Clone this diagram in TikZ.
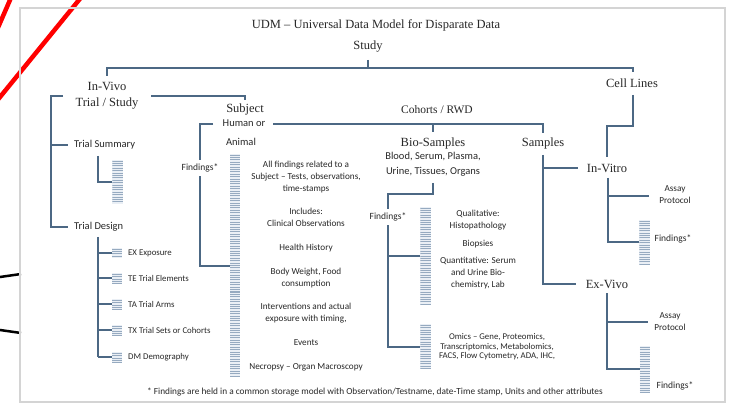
\documentclass[tikz,border=0pt]{standalone}
\usepackage{fontspec}
\setmainfont{Liberation Serif}
\setsansfont{Carlito}

\definecolor{treeblue}{RGB}{76,104,132}
\definecolor{barfill}{RGB}{234,239,245}
\definecolor{barline}{RGB}{150,170,192}
\definecolor{inkgray}{RGB}{40,40,40}
\definecolor{framegray}{RGB}{212,212,212}

\begin{document}
\begin{tikzpicture}[
		x=1pt,
		y=-1pt,
		link/.style={draw=treeblue, line width=2pt},
		head/.style={font=\fontsize{12.5}{16}\selectfont, text=inkgray, align=center, inner sep=1pt},
		subnote/.style={font=\sffamily\fontsize{10.5}{15}\selectfont, text=inkgray, align=center, inner sep=1pt},
		note/.style={font=\sffamily\fontsize{9.2}{12}\selectfont, text=inkgray, align=center, inner sep=1pt},
		findlabel/.style={font=\sffamily\fontsize{9.5}{10}\selectfont, text=inkgray, inner sep=4pt},
		tdlabel/.style={font=\sffamily\fontsize{8.8}{10}\selectfont, text=inkgray, anchor=west, inner sep=0pt},
		findbar/.style={minimum width=10.5pt, minimum height=#1, inner sep=0pt, fill=barfill,
			path picture={
				\foreach \k in {0,...,95}
					\draw[barline, line width=1pt] ([yshift=-\k*2.4pt-1.2pt]path picture bounding box.north west) -- ([yshift=-\k*2.4pt-1.2pt]path picture bounding box.north east);
			}}
	]
	\useasboundingbox (0,0) rectangle (731,406);
	\fill[white] (0,0) rectangle (731,406);

	% marks outside the frame
	\draw[red, line width=4.5pt] (-2,27.6) -- (12,-4.6);
	\draw[red, line width=4.5pt] (-2,99.5) -- (81,-2.5);
	\draw[black, line width=2.5pt] (-2,277.3) -- (21,274);
	\draw[black, line width=2.5pt] (-2,329.7) -- (21,333);
	\draw[framegray, line width=2.5pt] (20,8) rectangle (725,402);

	% headings
	\node[head] (title) at (376,25) {UDM – Universal Data Model for Disparate Data};
	\node[head] (study) at (368,47) {Study};
	\node[head] (invivo) at (107,96) {In-Vivo\\Trial / Study};
	\node[head] (cells) at (632,83) {Cell Lines};
	\node[head] (subject) at (245,109) {Subject};
	\node[subnote] (human) at (244,123) {Human or};
	\node[subnote] (animal) at (241,142) {Animal};
	\node[head, font=\fontsize{11.5}{14}\selectfont] (cohorts) at (437,110) {Cohorts / RWD};
	\node[head] (bio) at (433,143) {Bio-Samples};
	\node[subnote] (biolist) at (433,164.5) {Blood, Serum, Plasma,\\Urine, Tissues, Organs};
	\node[head] (samples) at (543,143) {Samples};
	\node[head] (invitro) at (607,168) {In-Vitro};
	\node[head] (exvivo) at (607,284) {Ex-Vivo};

	% top level
	\coordinate (topbar) at (368,68);
	\coordinate (ivtop) at (107,76);
	\coordinate (cltop) at (633,72);
	\draw[link] (ivtop) |- (topbar) -| (cltop);
	\draw[link] (368,60) -- (topbar);

	% in-vivo trial
	\node[subnote, anchor=west] (tsum) at (73,145) {Trial Summary};
	\node[subnote, anchor=west] (tdes) at (73,227) {Trial Design};
	\coordinate (ivleft) at (63,96);
	\coordinate (ivspine) at (51,96);
	\draw[link] (ivleft) -- (ivspine) |- ([xshift=-5pt]tdes.west);
	\draw[link] (ivspine |- tsum.west) -- ([xshift=-5pt]tsum.west);
	\coordinate (ivright) at (151,96);
	\coordinate (subtop) at (245,100);
	\draw[link] (ivright) -| (subtop);

	\node[findbar=44] (tsbar) at (117.5,182) {};
	\coordinate (tsdrop) at (98,156);
	\draw[link] (tsdrop) |- (tsbar.west);

	\coordinate (tddrop) at (98,237);
	\foreach \nm/\txt/\yy in {ex/EX Exposure/253, te/TE Trial Elements/278, ta/TA Trial Arms/304, tx/TX Trial Sets or Cohorts/330, dm/DM Demography/357} {
		\node[findbar=10, minimum width=10pt] (bar\nm) at (117,\yy) {};
		\node[tdlabel] (\nm) at (128,\yy) {\txt};
		\draw[link] (tddrop |- bar\nm.west) -- (bar\nm.west);
	}
	\draw[link] (tddrop) -- (tddrop |- bardm.west);

	% subject findings
	\node[findlabel] (subjfind) at (200,168) {Findings*};
	\node[findbar=223, minimum width=10pt] (subjbar) at (235,265.5) {};
	\coordinate (hmleft) at (213,124);
	\draw[link] (hmleft) -| (subjfind.north);
	\draw[link] (subjfind.south) |- (subjbar.west);

	\node[note] (sn1) at (306,177) {All findings related to a\\Subject – Tests, observations,\\time-stamps};
	\node[note] (sn2) at (306,217.5) {Includes:\\Clinical Observations};
	\node[note] (sn3) at (306,248) {Health History};
	\node[note] (sn4) at (306,278) {Body Weight, Food\\consumption};
	\node[note] (sn5) at (306,313.5) {Interventions and actual\\exposure with timing,};
	\node[note] (sn6) at (306,343) {Events};
	\node[note] (sn7) at (306,367) {Necropsy – Organ Macroscopy};

	% cohorts
	\coordinate (hmright) at (273,124);
	\coordinate (samptop) at (543,133);
	\coordinate (biotop) at (433,132);
	\draw[link] (hmright) -| (samptop);
	\draw[link] (biotop) -- (biotop |- hmright);

	% bio-samples findings
	\node[findlabel] (biofind) at (388,217) {Findings*};
	\node[findbar=98] (biobara) at (425.5,256) {};
	\node[findbar=45] (biobarb) at (425.5,346.5) {};
	\coordinate (biodrop) at (433,183);
	\draw[link] (biodrop) -- ++(0,11) -| (biofind.north);
	\draw[link] (biofind.south) |- (biobarb.west);
	\draw[link] (biofind.south |- biobara.west) -- (biobara.west);

	\node[note] (bn1) at (478,220.5) {Qualitative:\\Histopathology};
	\node[note] (bn2) at (478,244) {Biopsies};
	\node[note] (bn3) at (478,273) {Quantitative: Serum\\and Urine Bio-\\chemistry, Lab};
	\node[note, font=\sffamily\fontsize{8.8}{9.5}\selectfont] (bn4) at (497,347) {Omics – Gene, Proteomics,\\Transcriptomics, Metabolomics,\\FACS, Flow Cytometry, ADA, IHC,};

	% samples and cell lines
	\coordinate (sampdrop) at (543,155);
	\draw[link] (sampdrop) |- ([xshift=-9pt]exvivo.west);
	\draw[link] (sampdrop |- invitro.west) -- ([xshift=-8pt]invitro.west);
	\coordinate (celldrop) at (633,95);
	\coordinate (invtop) at (607,157);
	\draw[link] (celldrop) -- ++(0,31) -| (invtop);

	% in-vitro
	\node[note] (ivtassay) at (675,194.5) {Assay\\Protocol};
	\node[findbar=45] (ivtbar) at (644.5,242.5) {};
	\node[findlabel] (ivtfind) at (673,239) {Findings*};
	\coordinate (ivtdrop) at (608,178);
	\coordinate (ivtarm) at (649,196);
	\draw[link] (ivtdrop) |- (ivtbar.west);
	\draw[link] (ivtdrop |- ivtarm) -- (ivtarm);

	% ex-vivo
	\node[note] (exvassay) at (670,321.5) {Assay\\Protocol};
	\node[findbar=46] (exvbar) at (645,369) {};
	\node[findlabel] (exvfind) at (675,386) {Findings*};
	\coordinate (exvdrop) at (607,293);
	\coordinate (exvarm) at (648,322);
	\draw[link] (exvdrop) |- (exvbar.west);
	\draw[link] (exvdrop |- exvarm) -- (exvarm);

	\node[note, font=\sffamily\fontsize{9.3}{10}\selectfont] (footnote) at (375,392) {* Findings are held in a common storage model with Observation/Testname, date-Time stamp, Units and other attributes};
\end{tikzpicture}
\end{document}
